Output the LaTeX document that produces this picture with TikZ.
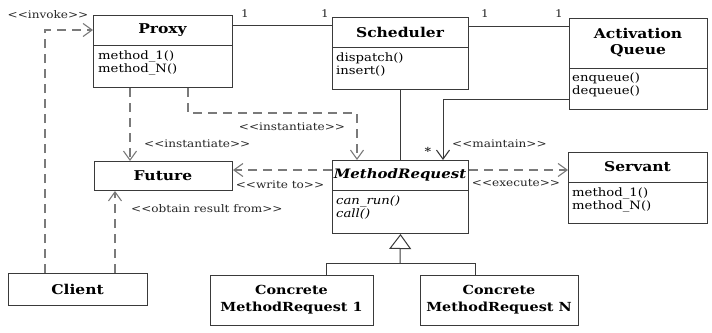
\documentclass[tikz,border=0pt]{standalone}
\usepackage{fontspec}
\setmainfont{DejaVu Serif}[FakeStretch=1.15]
\usetikzlibrary{arrows.meta}
\definecolor{boxc}{HTML}{3A3A3A}
\definecolor{dshc}{HTML}{7A7A7A}
\newcommand\stq[1]{<\kern0pt<#1>\kern0pt>}
\begin{document}
\begin{tikzpicture}[x=1pt,y=-1pt,
  cls/.style={draw=boxc, line width=1pt, anchor=north west, inner sep=0pt},
  ttl/.style={font=\fontsize{13.5}{16}\selectfont\bfseries, inner sep=0pt, align=center},
  ttlc/.style={font=\fontsize{12.5}{17}\selectfont\bfseries, inner sep=0pt, align=center},
  mth/.style={font=\fontsize{11.5}{12.5}\selectfont, inner sep=0pt, anchor=north west, align=left},
  lbl/.style={font=\fontsize{10.5}{12}\selectfont, inner sep=0pt, text=black!85},
  sol/.style={draw=boxc, line width=1pt},
  dsh/.style={draw=dshc, line width=1.2pt, dash pattern=on 9pt off 6pt},
  open/.style={-{Straight Barb[length=9pt,width=13pt,line width=1.1pt]}},
  inh/.style={-{Triangle[open,length=15pt,width=22pt,line width=1pt,fill=white]}}
]
\useasboundingbox (0,0) rectangle (712,332);

% Proxy
\node[cls, minimum width=139pt, minimum height=72pt] (proxy) at (93,15) {};
\draw[sol] (93,45) -- (232,45);
\node[ttl] (proxyT) at (162.5,30) {Proxy};
\node[mth] (proxyM) at (98,51) {method\_1()\\method\_N()};

% Scheduler
\node[cls, minimum width=136pt, minimum height=72pt] (sched) at (332,17) {};
\draw[sol] (332,47) -- (468,47);
\node[ttl] (schedT) at (400,32) {Scheduler};
\node[mth] (schedM) at (336,53) {dispatch()\\insert()};

% Activation Queue
\node[cls, minimum width=138pt, minimum height=91pt] (aq) at (569,18) {};
\draw[sol] (569,68) -- (707,68);
\node[ttl] (aqT) at (638,43) {Activation\\Queue};
\node[mth] (aqM) at (572,73) {enqueue()\\dequeue()};

% Future
\node[cls, minimum width=138pt, minimum height=29pt] (future) at (94,161) {};
\node[ttl] (futureT) at (163,175.5) {Future};

% MethodRequest
\node[cls, minimum width=136pt, minimum height=73pt] (mr) at (332,160) {};
\draw[sol] (332,190) -- (468,190);
\node[ttl, font=\fontsize{13}{16}\selectfont\bfseries\itshape] (mrT) at (400,175) {MethodRequest};
\node[mth, font=\fontsize{11.5}{12.5}\selectfont\itshape] (mrM) at (336,196) {can\_run()\\call()};

% Servant
\node[cls, minimum width=139pt, minimum height=71pt] (serv) at (568,152) {};
\draw[sol] (568,182) -- (707,182);
\node[ttl] (servT) at (637.5,167) {Servant};
\node[mth] (servM) at (572,188) {method\_1()\\method\_N()};

% Client
\node[cls, minimum width=139pt, minimum height=32pt] (client) at (8,273) {};
\node[ttl] (clientT) at (77.5,289) {Client};

% Concrete
\node[cls, minimum width=163pt, minimum height=50pt] (c1) at (210,275) {};
\node[ttlc] (c1T) at (291.5,300) {Concrete\\MethodRequest 1};
\node[cls, minimum width=158pt, minimum height=50pt] (cn) at (420,275) {};
\node[ttlc] (cnT) at (499,300) {Concrete\\MethodRequest N};

% Associations
\draw[sol] (proxy.east |- 0,25) -- (sched.west |- 0,25);
\node[lbl] (m1) at (245,14) {1};
\node[lbl] (m2) at (325,14) {1};
\draw[sol] (sched.east |- 0,26) -- (aq.west |- 0,26);
\node[lbl] (m3) at (485,14) {1};
\node[lbl] (m4) at (559,14) {1};
\draw[sol] (sched.south) -- (mr.north);
\coordinate (aqc) at (443,99);
\draw[sol, open] (aq.west |- aqc) -- (aqc) -- (aqc |- mr.north);
\node[lbl, font=\fontsize{11}{11}\selectfont\bfseries] (star) at (428,151) {*};
\node[lbl, anchor=west] (maint) at (452,144) {\stq{maintain}};

% Dependencies
\coordinate (pc1) at (188,113);
\coordinate (pc2) at (357,113);
\draw[dsh, open] (proxy.south -| pc1) -- (pc1) -- (pc2) -- (pc2 |- mr.north);
\node[lbl] (inst1) at (292,127) {\stq{instantiate}};
\coordinate (pf) at (130,100);
\draw[dsh, open] (proxy.south -| pf) -- (future.north -| pf);
\node[lbl, anchor=west] (inst2) at (144,144) {\stq{instantiate}};
\coordinate (wy) at (0,170);
\draw[dsh, open] (mr.west |- wy) -- (future.east |- wy);
\node[lbl] (wt) at (280,185) {\stq{write to}};
\draw[dsh, open] (mr.east |- wy) -- (serv.west |- wy);
\node[lbl] (ex) at (516,183) {\stq{execute}};
\coordinate (ci) at (45,30);
\draw[dsh, open] (client.north -| ci) -- (ci) -- (proxy.west |- ci);
\node[lbl] (inv) at (48,15) {\stq{invoke}};
\coordinate (cf) at (115,230);
\draw[dsh, open] (client.north -| cf) -- (future.south -| cf);
\node[lbl, anchor=west] (obt) at (131,209) {\stq{obtain result from}};

% Inheritance
\coordinate (ij) at (400,263);
\draw[sol, inh] (ij) -- (mr.south);
\draw[sol] (c1.north -| 326,0) -- (326,263) -- (475,263) -- (cn.north -| 475,0);
\end{tikzpicture}
\end{document}
